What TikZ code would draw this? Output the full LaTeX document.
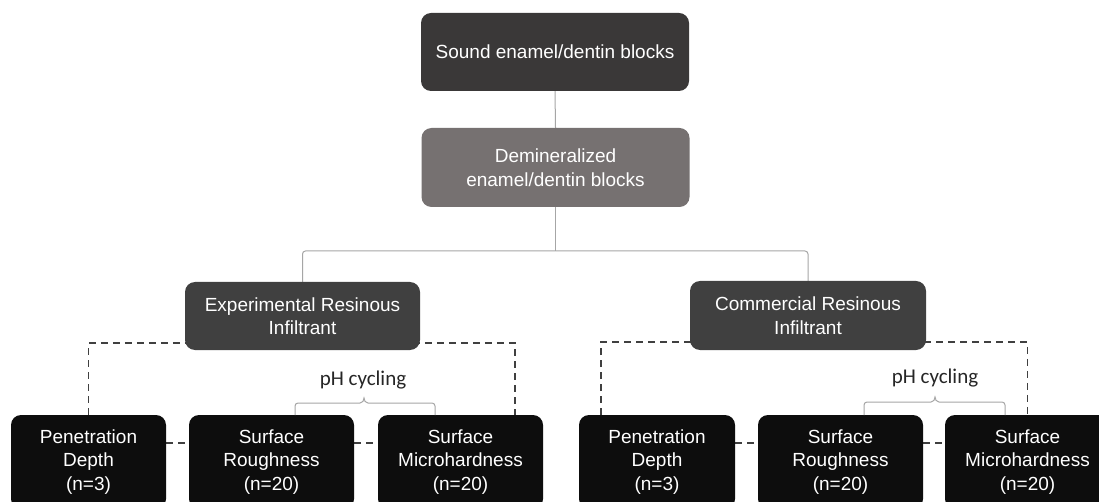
\documentclass[tikz,border=0pt]{standalone}
\usepackage{fontspec}
\setmainfont{Liberation Sans}
\newfontfamily\calibrifont{Carlito}
\usetikzlibrary{backgrounds,calc}
\definecolor{topc}{HTML}{3A3838}
\definecolor{demc}{HTML}{767171}
\definecolor{midc}{HTML}{404040}
\definecolor{leafc}{HTML}{0D0D0D}
\definecolor{connc}{HTML}{A6A6A6}
\definecolor{dashc}{HTML}{404040}
\definecolor{phc}{HTML}{262626}
\begin{document}
\begin{tikzpicture}[x=1pt,y=-1pt,
  box/.style={rounded corners=10pt, text=white, align=center, inner sep=0pt,
    font=\fontsize{19}{23.5}\selectfont},
  leaf/.style={box, fill=leafc, minimum height=94pt},
  conn/.style={draw=connc, line width=1pt},
  dashline/.style={draw=dashc, line width=1.5pt, dash pattern=on 7pt off 5pt},
  bracket/.style={draw=connc, line width=1pt},
  phlabel/.style={text=phc, inner sep=0pt, font=\calibrifont\fontsize{21}{25}\selectfont}]
\clip (0,0) rectangle (1099,502);

\node[box, fill=topc, minimum width=268pt, minimum height=78pt] (top) at (555,52) {Sound enamel/dentin blocks};
\node[box, fill=demc, minimum width=268pt, minimum height=79pt] (dem) at (555.5,167.5) {Demineralized\\enamel/dentin blocks};
\node[box, fill=midc, minimum width=235pt, minimum height=68pt] (exp) at (302.5,316) {Experimental Resinous\\Infiltrant};
\node[box, fill=midc, minimum width=236pt, minimum height=69pt] (com) at (808,315.5) {Commercial Resinous\\Infiltrant};

\node[leaf, minimum width=155pt] (pen1) at (88.5,462) {Penetration\\Depth\\(n=3)};
\node[leaf, minimum width=165pt] (rough1) at (271.5,462) {Surface\\Roughness\\(n=20)};
\node[leaf, minimum width=165pt] (micro1) at (460.5,462) {Surface\\Microhardness\\(n=20)};
\node[leaf, minimum width=156pt] (pen2) at (657,462) {Penetration\\Depth\\(n=3)};
\node[leaf, minimum width=165pt] (rough2) at (840.5,462) {Surface\\Roughness\\(n=20)};
\node[leaf, minimum width=165pt] (micro2) at (1027.5,462) {Surface\\Microhardness\\(n=20)};

\node[phlabel] (ph1) at (363,380) {pH cycling};
\node[phlabel] (ph2) at (935,378) {pH cycling};

\coordinate (split) at (555.5,251);
\coordinate (d1) at (515,415);
\coordinate (d2) at (601,415);

\begin{scope}[on background layer]
  \fill[white] (0,0) rectangle (1099,502);
  \draw[conn] (top.south) -- (dem.north);
  \draw[conn] (dem.south) -- (split);
  \draw[conn, rounded corners=3pt] (split) -| (exp.north);
  \draw[conn, rounded corners=3pt] (split) -| (com.north);

  \draw[dashline] (pen1.north) |- ($(exp.south)+(0,-7)$) -| (d1);
  \draw[dashline] (d2) |- ($(com.south)+(0,-8)$) -| (micro2.north);
  \draw[dashline] ([yshift=19pt]pen1.east) -- ([yshift=19pt]rough1.west);
  \draw[dashline] ([yshift=19pt]rough1.east) -- ([yshift=19pt]micro1.west);
  \draw[dashline] ([yshift=19pt]pen2.east) -- ([yshift=19pt]rough2.west);
  \draw[dashline] ([yshift=19pt]rough2.east) -- ([yshift=19pt]micro2.west);
\end{scope}

\draw[bracket] (295,415) -- (295,406) to[out=90,in=180] (298,403) -- (360,403)
  to[out=0,in=-90] (364,398) to[out=-90,in=180] (368,403) -- (432,403)
  to[out=0,in=90] (435,406) -- (435,415);
\draw[bracket] (864,415) -- (864,405) to[out=90,in=180] (867,402) -- (931,402)
  to[out=0,in=-90] (935,397) to[out=-90,in=180] (939,402) -- (1002,402)
  to[out=0,in=90] (1005,405) -- (1005,415);
\end{tikzpicture}
\end{document}
